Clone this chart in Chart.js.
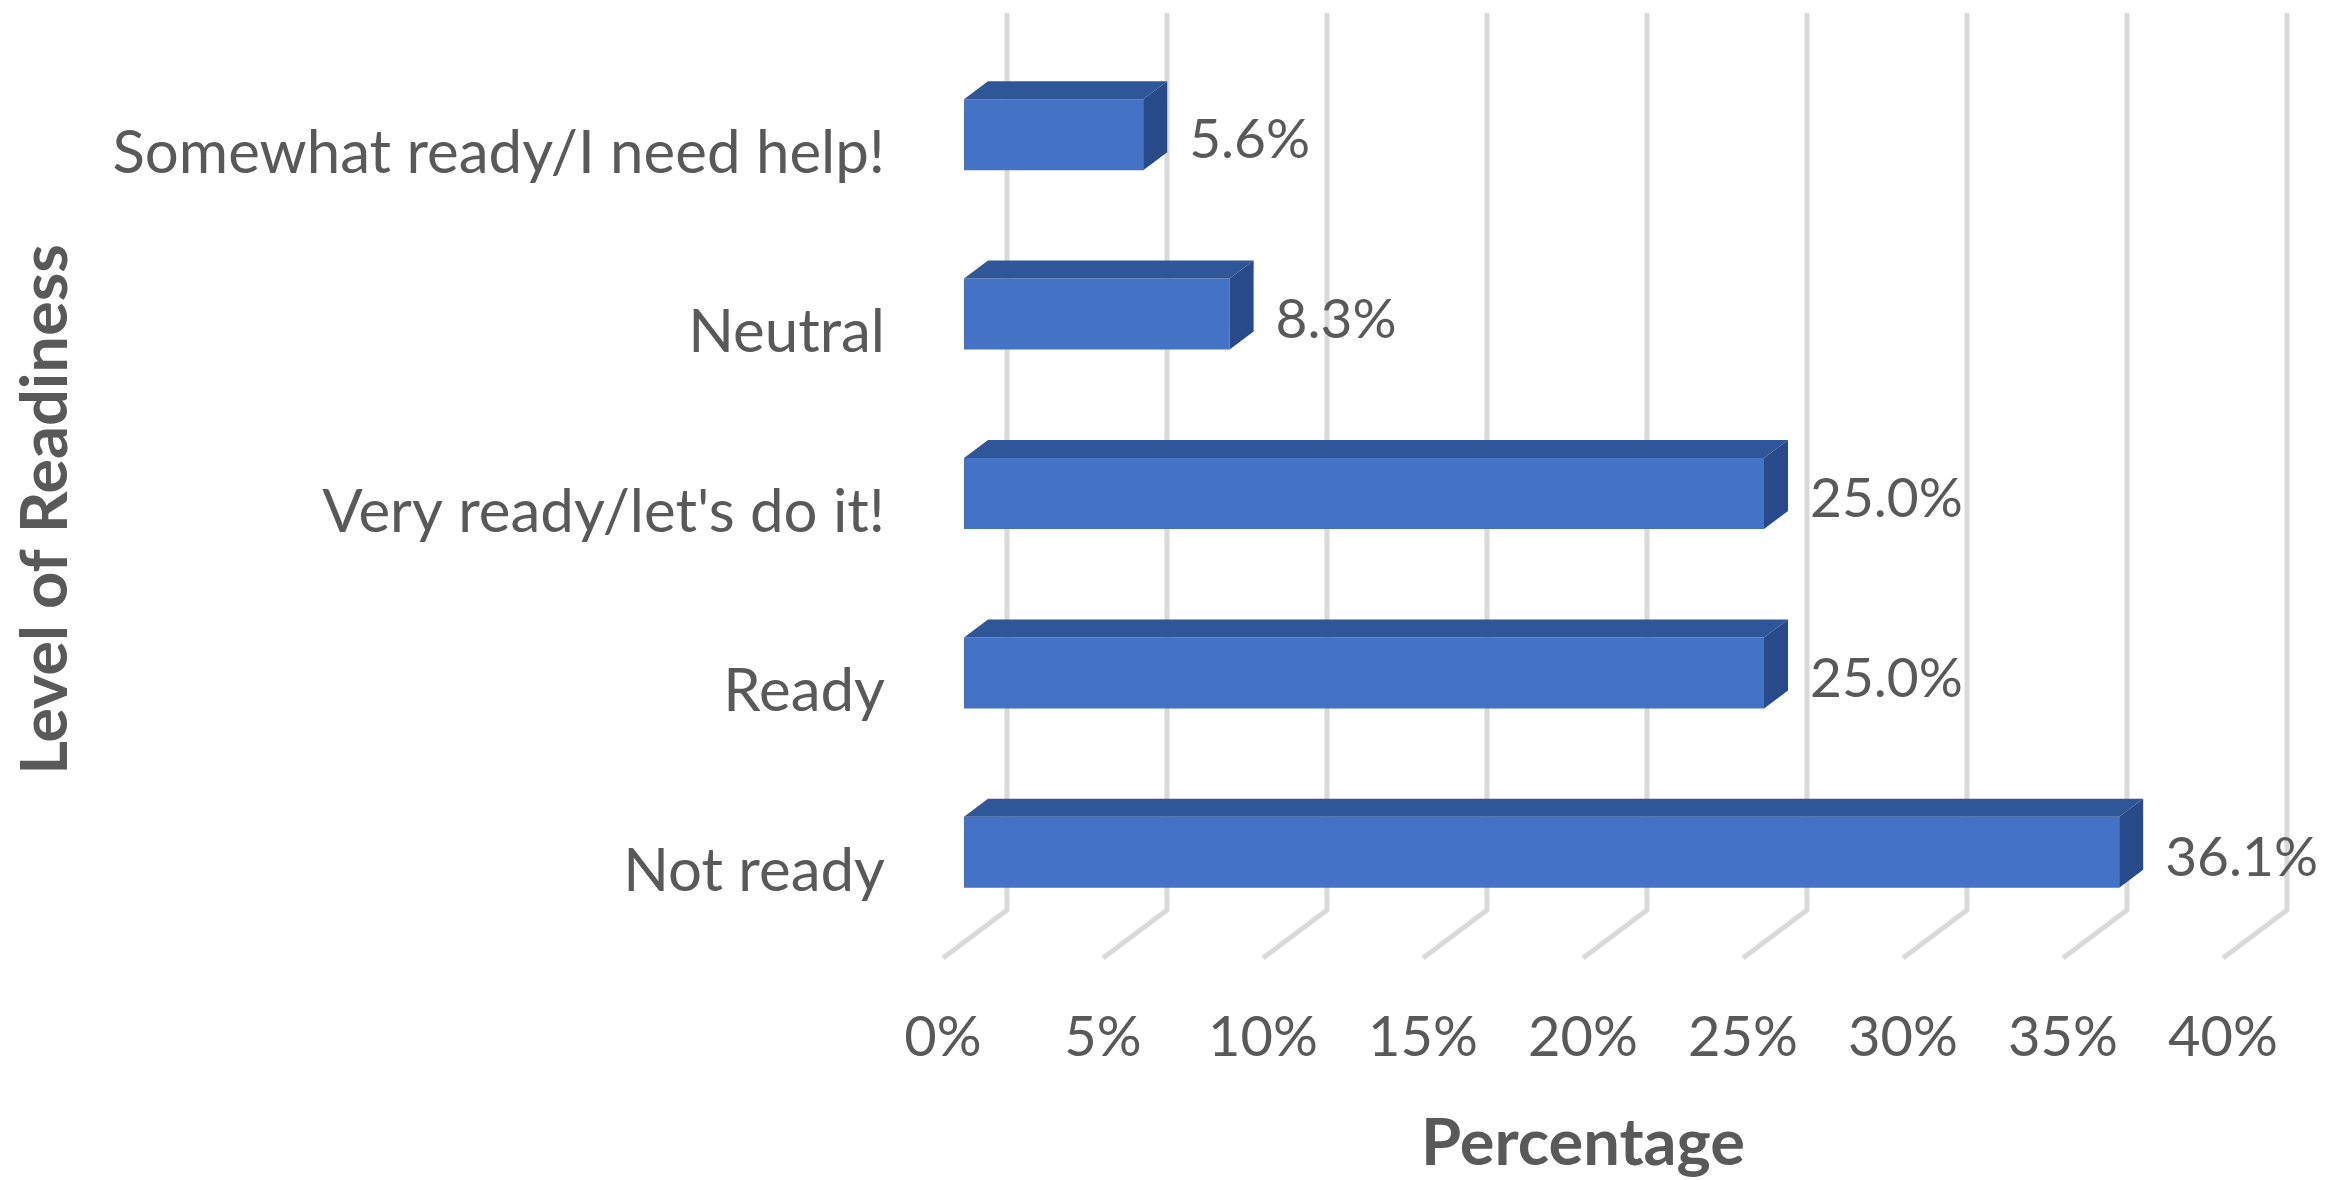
<!DOCTYPE html>
<html>
<head>
<meta charset="utf-8">
<script src="https://cdn.jsdelivr.net/npm/chart.js@4/dist/chart.umd.min.js"></script>
<style>
  html, body { margin: 0; padding: 0; background: #fff; }
</style>
</head>
<body>
<canvas id="chart" width="2325" height="1180"></canvas>
<script>
var categories = ["Somewhat ready/I need help!", "Neutral", "Very ready/let's do it!", "Ready", "Not ready"];
var percentages = [5.6, 8.3, 25.0, 25.0, 36.1];
var xTicks = [0, 5, 10, 15, 20, 25, 30, 35, 40];
var xTitle = "Percentage";
var yTitle = "Level of Readiness";

var TEXT = "#595959";
var GRID = "#d9d9d9";
var FRONT_FACE = "#4472c4";
var TOP_FACE = "#30569a";
var SIDE_FACE = "#294a88";
var TITLE_FONT = "bold 65px Lato";

// 3D offsets, relative to the plane of the bar fronts
var FLOOR_FRONT = { dx: -21, dy: 16 };
var BACK_WALL = { dx: 43, dy: -32 };
var BAR_DEPTH = { dx: 24, dy: -18 };

function poly(ctx, pts, color) {
  ctx.beginPath();
  ctx.moveTo(pts[0][0], pts[0][1]);
  for (var i = 1; i < pts.length; i++) ctx.lineTo(pts[i][0], pts[i][1]);
  ctx.closePath();
  ctx.fillStyle = color;
  ctx.fill();
}

var depthPlugin = {
  id: "depth3d",
  beforeDatasetsDraw: function (chart) {
    var ctx = chart.ctx, xs = chart.scales.x, area = chart.chartArea;
    ctx.save();
    ctx.strokeStyle = GRID;
    ctx.lineWidth = 5;
    ctx.lineJoin = "round";
    for (var i = 0; i < xs.ticks.length; i++) {
      var px = xs.getPixelForValue(xs.ticks[i].value);
      ctx.beginPath();
      ctx.moveTo(px + BACK_WALL.dx, area.top + BACK_WALL.dy);
      ctx.lineTo(px + BACK_WALL.dx, area.bottom + BACK_WALL.dy);
      ctx.lineTo(px + FLOOR_FRONT.dx, area.bottom + FLOOR_FRONT.dy);
      ctx.stroke();
    }
    ctx.restore();
  },
  afterDatasetsDraw: function (chart) {
    var ctx = chart.ctx;
    var meta = chart.getDatasetMeta(0);
    ctx.save();
    for (var i = 0; i < meta.data.length; i++) {
      var p = meta.data[i].getProps(["x", "y", "base", "height"], true);
      var top = p.y - p.height / 2, bottom = p.y + p.height / 2;
      var dx = BAR_DEPTH.dx, dy = BAR_DEPTH.dy;
      poly(ctx, [[p.base, top], [p.base + dx, top + dy], [p.x + dx, top + dy], [p.x, top]], TOP_FACE);
      poly(ctx, [[p.x, top], [p.x + dx, top + dy], [p.x + dx, bottom + dy], [p.x, bottom]], SIDE_FACE);

      ctx.fillStyle = TEXT;
      ctx.font = "55px Lato";
      ctx.textAlign = "left";
      ctx.textBaseline = "middle";
      ctx.fillText(percentages[i].toFixed(1) + "%", p.x + dx + 22, p.y + 6);
    }
    ctx.restore();
  },
  afterDraw: function (chart) {
    // axis titles centred on the front edge of the floor / side
    var ctx = chart.ctx, area = chart.chartArea;
    ctx.save();
    ctx.fillStyle = TEXT;
    ctx.font = TITLE_FONT;
    ctx.textAlign = "center";
    ctx.textBaseline = "middle";
    ctx.fillText(xTitle, (area.left + area.right) / 2 + FLOOR_FRONT.dx, chart.height - 36);
    ctx.translate(46, (area.top + area.bottom) / 2 + FLOOR_FRONT.dy);
    ctx.rotate(-Math.PI / 2);
    ctx.fillText(yTitle, 0, 0);
    ctx.restore();
  }
};

new Chart(document.getElementById("chart"), {
  type: "bar",
  data: {
    labels: categories,
    datasets: [{
      data: percentages,
      backgroundColor: FRONT_FACE,
      borderWidth: 0,
      barPercentage: 0.396,
      categoryPercentage: 1
    }]
  },
  options: {
    indexAxis: "y",
    responsive: false,
    animation: false,
    layout: { padding: { top: 45, right: 81, left: 0, bottom: 0 } },
    plugins: { legend: { display: false }, tooltip: { enabled: false } },
    scales: {
      x: {
        min: 0,
        max: 40,
        afterBuildTicks: function (scale) {
          scale.ticks = xTicks.map(function (v) { return { value: v }; });
        },
        afterFit: function (scale) {
          scale.height = 238;
          scale.paddingLeft = 0;
          scale.paddingRight = 0;
        },
        grid: { display: false, drawTicks: false },
        border: { display: false },
        ticks: {
          color: TEXT,
          font: { family: "Lato", size: 56 },
          padding: 62,
          labelOffset: FLOOR_FRONT.dx,
          maxRotation: 0,
          callback: function (v) { return v + "%"; }
        }
      },
      y: {
        afterFit: function (scale) {
          scale.width = 964;
          scale.paddingTop = 0;
          scale.paddingBottom = 0;
        },
        grid: { display: false, drawTicks: false },
        border: { display: false },
        ticks: {
          color: TEXT,
          font: { family: "Lato", size: 60 },
          padding: 79,
          labelOffset: FLOOR_FRONT.dy + 3
        }
      }
    }
  },
  plugins: [depthPlugin]
});
</script>
</body>
</html>
